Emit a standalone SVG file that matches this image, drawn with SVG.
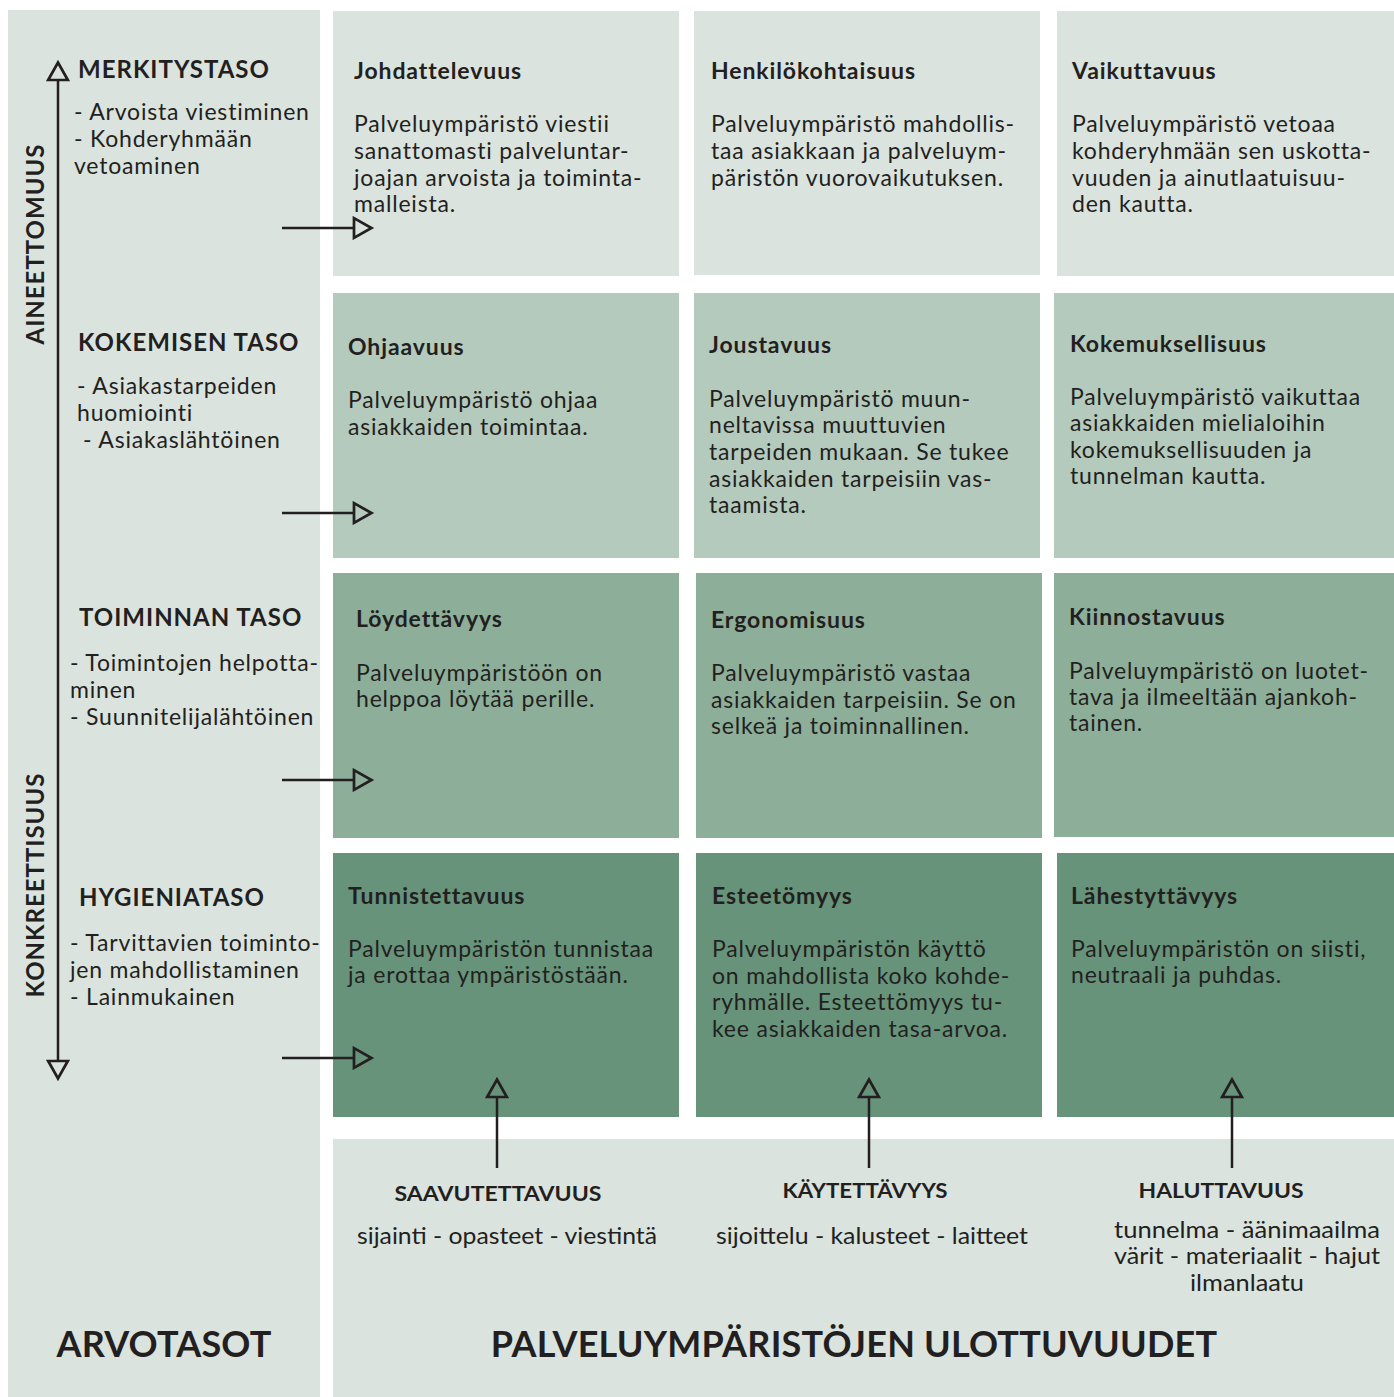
<svg xmlns="http://www.w3.org/2000/svg" width="1394" height="1397" viewBox="0 0 1394 1397">
  <style>
    .bg0 { fill: #DAE3DE; }
    .bg1 { fill: #DAE3DE; }
    .bg2 { fill: #B4CABD; }
    .bg3 { fill: #8DAF9A; }
    .bg4 { fill: #66937A; }
    text { font-family: Lato, "Open Sans", "Liberation Sans", sans-serif; fill: #231F20; }
    .lvl { font-size: 24px; font-weight: 700; letter-spacing: 1px; }
    .axis { font-size: 24px; font-weight: 700; letter-spacing: 1px; }
    .txt { font-size: 23px; letter-spacing: 0.8px; }
    .ttl { font-size: 23px; font-weight: 700; letter-spacing: 0.9px; }
    .big { font-size: 36px; font-weight: 700; letter-spacing: 0.2px; }
    .dim { font-size: 21px; font-weight: 700; }
    .dtx { font-size: 23px; }
    .ln { stroke: #231F20; stroke-width: 2.5; fill: none; }
  </style>
  <defs>
    <marker id="tri" markerUnits="userSpaceOnUse" markerWidth="24" markerHeight="24" viewBox="-2 -11 20 22" refX="0" refY="0" orient="auto-start-reverse">
      <path d="M0,-9 L16,0 L0,9 Z" fill="none" stroke="#231F20" stroke-width="2.5" stroke-linejoin="miter"/>
    </marker>
  </defs>

  <rect width="1394" height="1397" fill="#FFFFFF"/>

  <!-- value levels column -->
  <g id="arvotasot">
    <rect class="bg0" x="8" y="10" width="312" height="1387"/>
    <text class="axis" transform="translate(44,244) rotate(-90)" text-anchor="middle">AINEETTOMUUS</text>
    <text class="axis" transform="translate(44,885) rotate(-90)" text-anchor="middle">KONKREETTISUUS</text>
    <text class="big" x="164" y="1357" text-anchor="middle">ARVOTASOT</text>
  </g>

  <g id="merkitystaso">
    <text class="lvl" x="78" y="78">MERKITYSTASO</text>
    <text class="txt" x="74" y="120">- Arvoista viestiminen</text>
    <text class="txt" x="74" y="147">- Kohderyhmään</text>
    <text class="txt" x="74" y="174">vetoaminen</text>
  </g>
  <g id="kokemisen-taso">
    <text class="lvl" x="78" y="351">KOKEMISEN TASO</text>
    <text class="txt" x="77" y="394">- Asiakastarpeiden</text>
    <text class="txt" x="77" y="421">huomiointi</text>
    <text class="txt" x="83" y="448">- Asiakaslähtöinen</text>
  </g>
  <g id="toiminnan-taso">
    <text class="lvl" x="79" y="626">TOIMINNAN TASO</text>
    <text class="txt" x="70" y="671">- Toimintojen helpotta-</text>
    <text class="txt" x="70" y="698">minen</text>
    <text class="txt" x="70" y="725">- Suunnitelijalähtöinen</text>
  </g>
  <g id="hygieniataso">
    <text class="lvl" x="79" y="906">HYGIENIATASO</text>
    <text class="txt" x="70" y="951">- Tarvittavien toiminto-</text>
    <text class="txt" x="70" y="978">jen mahdollistaminen</text>
    <text class="txt" x="70" y="1005">- Lainmukainen</text>
  </g>

  <!-- row 1 -->
  <g id="johdattelevuus">
    <rect class="bg1" x="333" y="11" width="346" height="265"/>
    <text class="ttl" x="354" y="79">Johdattelevuus</text>
    <text class="txt" x="354" y="132">Palveluympäristö viestii</text>
    <text class="txt" x="354" y="159">sanattomasti palveluntar-</text>
    <text class="txt" x="354" y="186">joajan arvoista ja toiminta-</text>
    <text class="txt" x="354" y="212">malleista.</text>
  </g>
  <g id="henkilokohtaisuus">
    <rect class="bg1" x="694" y="11" width="346" height="264"/>
    <text class="ttl" x="711" y="79">Henkilökohtaisuus</text>
    <text class="txt" x="711" y="132">Palveluympäristö mahdollis-</text>
    <text class="txt" x="711" y="159">taa asiakkaan ja palveluym-</text>
    <text class="txt" x="711" y="186">päristön vuorovaikutuksen.</text>
  </g>
  <g id="vaikuttavuus">
    <rect class="bg1" x="1057" y="11" width="337" height="265"/>
    <text class="ttl" x="1072" y="79">Vaikuttavuus</text>
    <text class="txt" x="1072" y="132">Palveluympäristö vetoaa</text>
    <text class="txt" x="1072" y="159">kohderyhmään sen uskotta-</text>
    <text class="txt" x="1072" y="186">vuuden ja ainutlaatuisuu-</text>
    <text class="txt" x="1072" y="212">den kautta.</text>
  </g>

  <!-- row 2 -->
  <g id="ohjaavuus">
    <rect class="bg2" x="333" y="293" width="346" height="265"/>
    <text class="ttl" x="348" y="355">Ohjaavuus</text>
    <text class="txt" x="348" y="408">Palveluympäristö ohjaa</text>
    <text class="txt" x="348" y="435">asiakkaiden toimintaa.</text>
  </g>
  <g id="joustavuus">
    <rect class="bg2" x="694" y="293" width="346" height="265"/>
    <text class="ttl" x="709" y="353">Joustavuus</text>
    <text class="txt" x="709" y="407">Palveluympäristö muun-</text>
    <text class="txt" x="709" y="433">neltavissa muuttuvien</text>
    <text class="txt" x="709" y="460">tarpeiden mukaan. Se tukee</text>
    <text class="txt" x="709" y="487">asiakkaiden tarpeisiin vas-</text>
    <text class="txt" x="709" y="513">taamista.</text>
  </g>
  <g id="kokemuksellisuus">
    <rect class="bg2" x="1054" y="293" width="340" height="265"/>
    <text class="ttl" x="1070" y="352">Kokemuksellisuus</text>
    <text class="txt" x="1070" y="405">Palveluympäristö vaikuttaa</text>
    <text class="txt" x="1070" y="431">asiakkaiden mielialoihin</text>
    <text class="txt" x="1070" y="458">kokemuksellisuuden ja</text>
    <text class="txt" x="1070" y="484">tunnelman kautta.</text>
  </g>

  <!-- row 3 -->
  <g id="loydettavyys">
    <rect class="bg3" x="333" y="573" width="346" height="265"/>
    <text class="ttl" x="356" y="627">Löydettävyys</text>
    <text class="txt" x="356" y="681">Palveluympäristöön on</text>
    <text class="txt" x="356" y="707">helppoa löytää perille.</text>
  </g>
  <g id="ergonomisuus">
    <rect class="bg3" x="696" y="573" width="346" height="265"/>
    <text class="ttl" x="711" y="628">Ergonomisuus</text>
    <text class="txt" x="711" y="681">Palveluympäristö vastaa</text>
    <text class="txt" x="711" y="708">asiakkaiden tarpeisiin. Se on</text>
    <text class="txt" x="711" y="734">selkeä ja toiminnallinen.</text>
  </g>
  <g id="kiinnostavuus">
    <rect class="bg3" x="1054" y="573" width="340" height="264"/>
    <text class="ttl" x="1069" y="625">Kiinnostavuus</text>
    <text class="txt" x="1069" y="679">Palveluympäristö on luotet-</text>
    <text class="txt" x="1069" y="705">tava ja ilmeeltään ajankoh-</text>
    <text class="txt" x="1069" y="731">tainen.</text>
  </g>

  <!-- row 4 -->
  <g id="tunnistettavuus">
    <rect class="bg4" x="333" y="853" width="346" height="264"/>
    <text class="ttl" x="348" y="904">Tunnistettavuus</text>
    <text class="txt" x="348" y="957">Palveluympäristön tunnistaa</text>
    <text class="txt" x="348" y="983">ja erottaa ympäristöstään.</text>
  </g>
  <g id="esteettomyys">
    <rect class="bg4" x="696" y="853" width="346" height="264"/>
    <text class="ttl" x="712" y="904">Esteetömyys</text>
    <text class="txt" x="712" y="957">Palveluympäristön käyttö</text>
    <text class="txt" x="712" y="984">on mahdollista koko kohde-</text>
    <text class="txt" x="712" y="1010">ryhmälle. Esteettömyys tu-</text>
    <text class="txt" x="712" y="1037">kee asiakkaiden tasa-arvoa.</text>
  </g>
  <g id="lahestyttavyys">
    <rect class="bg4" x="1057" y="853" width="337" height="264"/>
    <text class="ttl" x="1071" y="904">Lähestyttävyys</text>
    <text class="txt" x="1071" y="957">Palveluympäristön on siisti,</text>
    <text class="txt" x="1071" y="983">neutraali ja puhdas.</text>
  </g>

  <!-- dimensions panel -->
  <g id="ulottuvuudet">
    <rect class="bg0" x="333" y="1139" width="1061" height="258"/>
    <text class="big" x="854" y="1357" text-anchor="middle">PALVELUYMPÄRISTÖJEN ULOTTUVUUDET</text>
  </g>
  <g id="saavutettavuus">
    <text class="dim" x="498" y="1201" text-anchor="middle" textLength="207" lengthAdjust="spacingAndGlyphs">SAAVUTETTAVUUS</text>
    <text class="dtx" x="507" y="1244" text-anchor="middle" textLength="300" lengthAdjust="spacingAndGlyphs">sijainti - opasteet - viestintä</text>
  </g>
  <g id="kaytettavyys">
    <text class="dim" x="865" y="1198" text-anchor="middle" textLength="165" lengthAdjust="spacingAndGlyphs">KÄYTETTÄVYYS</text>
    <text class="dtx" x="872" y="1244" text-anchor="middle" textLength="312" lengthAdjust="spacingAndGlyphs">sijoittelu - kalusteet - laitteet</text>
  </g>
  <g id="haluttavuus">
    <text class="dim" x="1221" y="1198" text-anchor="middle" textLength="165" lengthAdjust="spacingAndGlyphs">HALUTTAVUUS</text>
    <text class="dtx" x="1247" y="1238" text-anchor="middle" textLength="266" lengthAdjust="spacingAndGlyphs">tunnelma - äänimaailma</text>
    <text class="dtx" x="1247" y="1264" text-anchor="middle" textLength="266" lengthAdjust="spacingAndGlyphs">värit - materiaalit - hajut</text>
    <text class="dtx" x="1247" y="1291" text-anchor="middle" textLength="114" lengthAdjust="spacingAndGlyphs">ilmanlaatu</text>
  </g>

  <!-- connectors -->
  <g id="connectors">
    <line class="ln" x1="58" y1="80" x2="58" y2="1061" marker-start="url(#tri)" marker-end="url(#tri)"/>
    <line class="ln" x1="282" y1="228" x2="354" y2="228" marker-end="url(#tri)"/>
    <line class="ln" x1="282" y1="513" x2="354" y2="513" marker-end="url(#tri)"/>
    <line class="ln" x1="282" y1="780" x2="354" y2="780" marker-end="url(#tri)"/>
    <line class="ln" x1="282" y1="1058" x2="354" y2="1058" marker-end="url(#tri)"/>
    <line class="ln" x1="497" y1="1168" x2="497" y2="1097" marker-end="url(#tri)"/>
    <line class="ln" x1="869" y1="1168" x2="869" y2="1097" marker-end="url(#tri)"/>
    <line class="ln" x1="1232" y1="1168" x2="1232" y2="1097" marker-end="url(#tri)"/>
  </g>
</svg>
